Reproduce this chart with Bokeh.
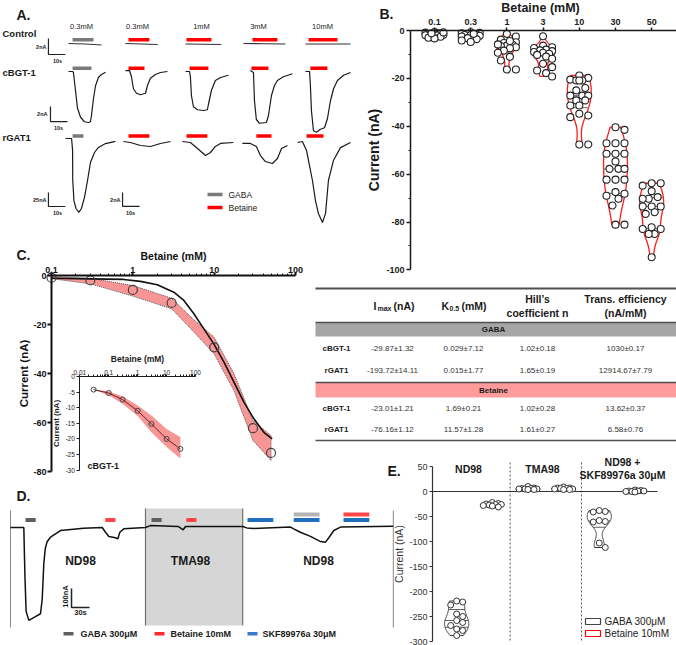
import numpy as np
from bokeh.plotting import figure
from bokeh.models import Range1d, LogScale, LinearAxis, FixedTicker, CustomJSTickFormatter
from bokeh.core.properties import value
from bokeh.embed import file_html
from bokeh.resources import INLINE

FONT = "Liberation Sans"
W, H = 676, 645

# ============================ DATA ============================
# ---- Panel A : current traces (time in s from column start, current in nA) ----
a_columns = ["0.3mM", "0.3mM", "1mM", "3mM", "10mM"]
a_rows = ["Control", "cBGT-1", "rGAT1"]

ctrl_bar_on = [2.4, 1.8, 0.6, 5.3, 1.8]
ctrl_bar_off = [14.7, 14.1, 15.3, 20.0, 18.8]
cbgt_bar_on = [2.4, 1.8, 2.4, 4.7, 2.9]
cbgt_bar_off = [13.5, 11.2, 13.5, 14.7, 12.9]
rgat_bar_on = [2.4, 1.8, 0.6, 7.6, 0.6]
rgat_bar_off = [8.8, 14.1, 12.9, 16.5, 10.6]

ctrl_t = [[0, 10, 19.4], [0, 9.5, 19], [0, 10.5, 21], [0, 12, 24.7], [0, 13, 26.5]]
ctrl_i = [[0.06, 0, -0.12], [0.06, 0, -0.06], [0, -0.03, -0.06], [0.06, 0.03, 0], [0, 0, 0]]

cbgt_t = [
    [0, 2.4, 2.9, 4.1, 5.3, 7.1, 9.4, 11.8, 12.9, 13.5, 14.7, 15.9, 17.6, 19.4, 21.8],
    [0, 2.4, 3.5, 4.7, 6.5, 8.8, 11.8, 12.9, 14.7, 17.6, 20.6, 24.7],
    [0, 2.4, 2.9, 3.5, 4.7, 7.1, 10.6, 12.9, 13.5, 15.3, 17.6, 20.6, 25.3],
    [4.1, 5.9, 6.5, 7.6, 9.4, 13.5, 14.7, 16.5, 18.2, 20, 23.5, 28.8],
    [0, 2.4, 2.9, 3.5, 4.7, 6.5, 8.8, 11.2, 12.9, 14.7, 16.5, 18.8, 22.4, 26.5]]
cbgt_i = [
    [0, 0, -0.13, -2.5, -4.9, -6.1, -6.7, -6.8, -6.7, -5.9, -3.6, -1.9, -0.8, -0.4, -0.1],
    [0.13, 0.13, -0.67, -2.3, -2.9, -3.1, -2.9, -1.9, -0.9, -0.4, -0.13, 0],
    [0, 0, -0.67, -3.2, -4.7, -5.1, -5.2, -5.1, -4.4, -2.5, -1.2, -0.8, -0.5],
    [0.13, -0.13, -3.9, -6.4, -6.9, -6.8, -5.9, -3.2, -1.9, -1.2, -0.7, -0.3],
    [0, 0, -1.9, -5.2, -7.9, -8.1, -7.7, -7.5, -6.3, -3.9, -2.3, -1.2, -0.5, -0.13]]

rgat_gaba_t = [-1.8, 1.8, 2.4, 2.5, 3.2, 4.4, 6.1, 7.6, 9.4, 11.2, 12.9, 15.3, 17.6, 21.8, 27.6]
rgat_gaba_i = [0, 0, -21, -75, -111, -125, -132, -125, -105, -75, -43, -25, -16, -9, -5]
rgat_t = [[-1.2, 2.9, 8.8, 14.7, 20.6, 26.5],
          [-1.8, 2.9, 7.1, 11.8, 14.7, 17.6, 20.6, 28.2],
          [-0.6, 4.1, 7.6, 10, 12.9, 17.1, 20, 22.4, 25.9],
          [-4.7, -1.8, 0.6, 2.4, 4.1, 5.9, 7.6, 10, 11.8, 13.5, 16.5, 20.6, 26.5]]
rgat_i = [[-0.43, -0.57, -1.0, -1.14, -0.71, -0.43],
          [-0.43, -0.57, -1.43, -2.43, -2.0, -1.14, -0.71, -0.57],
          [-0.71, -0.71, -1.14, -2.43, -3.29, -3.57, -2.86, -1.43, -1.0],
          [-0.57, -0.43, -1.7, -3.9, -6.0, -8.9, -10.7, -12.0, -10.7, -6.0, -3.1, -1.3, -0.57]]

# ---- Panel B : betaine currents (nA) per concentration ----
b_conc = ["0.1", "0.3", "1", "3", "10", "30", "50"]
b_01 = [-0.6, -0.9, -1.1, -1.3, -1.5, -1.6, -1.8, -2.0, -2.1, -2.3, -2.6, -3.0, -3.3, -1.2, -0.8]
b_03 = [-0.7, -1.0, -1.2, -1.5, -1.7, -1.9, -2.0, -2.2, -2.5, -2.8, -3.2, -3.6, -4.2, -4.8, -1.4]
b_1 = [-1.4, -2.5, -3.8, -4.9, -5.2, -6.0, -6.3, -6.5, -7.0, -7.4, -8.4, -9.3, -11.0, -12.5,
       -16.3, -16.3, -5.8, -4.4]
b_3 = [-2.4, -6.3, -7.0, -7.3, -8.0, -8.3, -8.6, -9.0, -9.3, -9.7, -10.2, -10.9, -11.8, -13.9,
       -15.3, -16.7, -17.8, -19.2]
b_10 = [-18.8, -19.8, -20.5, -20.9, -20.9, -20.9, -24.0, -25.0, -27.2, -27.2, -27.2, -29.2,
        -29.2, -31.3, -31.3, -34.8, -35.5, -36.2, -47.6, -47.6]
b_30 = [-40.4, -41.5, -47.1, -47.1, -47.1, -51.5, -51.5, -51.5, -54.7, -57.8, -57.8, -57.8,
        -62.3, -62.3, -62.3, -67.5, -68.2, -69.0, -70.3, -73.1, -81.1, -81.1]
b_50 = [-63.8, -63.8, -64.8, -67.1, -69.6, -70.3, -70.3, -73.5, -73.5, -73.5, -75.9, -76.6,
        -82.2, -82.9, -82.9, -85.0, -85.0, -94.7]

# ---- Panel C : dose response (rGAT1 main, cBGT-1 inset) ----
c_conc = [0.1, 0.3, 1, 3, 10, 30, 50]
c_mean = [-0.9, -2.0, -5.9, -11.2, -29.3, -62.3, -72.4]
c_band_conc = [0.1, 0.3, 1, 3, 5.6, 10, 17.5, 30, 50]
c_band_hi = [-0.5, -1.1, -4.1, -9.3, -18.0, -25.2, -40.0, -59.2, -65.3]
c_band_lo = [-1.3, -3.4, -8.4, -13.6, -23.0, -32.0, -47.0, -67.3, -75.5]
c_fit_conc = [0.1, 0.3, 0.77, 1.24, 2.0, 3.19, 4.24, 5.63, 7.47, 9.9, 13.2, 17.5, 23.2, 30.8, 40.8, 51.7]
c_fit_i = [-1.1, -1.36, -1.6, -2.4, -3.8, -6.8, -10.2, -15.6, -21.8, -27.9, -35.4, -43.5, -51.7,
           -58.5, -64.0, -66.7]
ci_conc = [0.03, 0.1, 0.3, 1, 3, 10, 30]
ci_mean = [-4.2, -5.3, -7.4, -11.0, -15.2, -20.0, -23.2]
ci_band_hi = [-4.2, -4.8, -6.3, -9.3, -12.5, -16.8, -19.4]
ci_band_lo = [-4.2, -6.0, -8.7, -12.7, -17.9, -22.6, -26.3]

# ---- Table ----
tbl_cols = ["Imax (nA)", "K0.5 (mM)", "Hill’s coefficient n", "Trans. efficiency (nA/mM)"]
tbl_gaba_cbgt = ["-29.87±1.32", "0.029±7.12", "1.02±0.18", "1030±0.17"]
tbl_gaba_rgat = ["-193.72±14.11", "0.015±1.77", "1.65±0.19", "12914.67±7.79"]
tbl_bet_cbgt = ["-23.01±1.21", "1.69±0.21", "1.02±0.28", "13.62±0.37"]
tbl_bet_rgat = ["-76.16±1.12", "11.57±1.28", "1.61±0.27", "6.58±0.76"]

# ---- Panel D : continuous recording (s, nA) ----
d_t = [0, 22.2, 24, 26, 30.5, 40, 50, 52.8, 55.5, 58, 61, 66.7, 83.3, 121.7, 152.8, 158.3, 163.9,
       175, 178.9, 182.2, 188.9, 225, 233, 280, 287.8, 291.7, 387, 394, 405, 466.7, 472, 483, 500,
       516.7, 525, 530.5, 538.9, 550, 637.8]
d_i = [0, 0, -250, -440, -489, -472, -454, -380, -191, -110, -75, -51, -16, -4, 0, -25, -47,
       -54, -60, -25, -7, 0, 10, 5, -12, 5, 5, -2, -5, 2, -7, -25, -47,
       -74, -77, -54, -16, 2, 7]
d_tma_on, d_tma_off = 225, 387
d_gaba_on, d_gaba_off = [25, 235], [42, 252]
d_bet_on, d_bet_off = [158, 293], [175, 310]
d_skf_on, d_skf_off = [395, 472, 555], [438, 515, 598]
d_skfgaba_on, d_skfgaba_off = [472], [515]
d_skfbet_on, d_skfbet_off = [555], [598]

# ---- Panel E : currents (nA) ----
e_groups = ["ND98", "TMA98", "ND98 +\nSKF89976a 30μM"]
e_nd_gaba = [-219, -221, -227, -245, -250, -258, -262, -268, -275, -278, -288]
e_nd_bet = [-22, -24, -25, -26, -26, -27, -28, -29, -31]
e_tma_gaba = [10, 7, 6, 6, 5, 5, 5, 4, 4]
e_tma_bet = [9, 7, 7, 6, 6, 5, 5, 4, 4]
e_skf_gaba = [-38, -40, -41, -58, -60, -61, -103, -112]
e_skf_bet = [3, 2, 1, 1, 0, 0, -1, 1]

# ============================ CANVAS ============================
p = figure(width=W, height=H, x_range=Range1d(0, W), y_range=Range1d(H, 0),
           x_axis_type=None, y_axis_type=None, output_backend="svg", toolbar_location=None,
           min_border=0, outline_line_color=None)

def lin(v1, p1, v2, p2, lo, hi):
    k = (v2 - v1) / (p2 - p1)
    return Range1d(start=float(v1 + (lo - p1) * k), end=float(v1 + (hi - p1) * k))

def logr(v1, p1, v2, p2, lo, hi):
    a, b = np.log10(v1), np.log10(v2)
    k = (b - a) / (p2 - p1)
    return Range1d(start=float(10 ** (a + (lo - p1) * k)), end=float(10 ** (a + (hi - p1) * k)))

def add_x(name, v1, p1, v2, p2, log=False):
    p.extra_x_ranges[name] = (logr if log else lin)(v1, p1, v2, p2, 0, W)
    if log:
        p.extra_x_scales[name] = LogScale()

def add_y(name, v1, p1, v2, p2):
    p.extra_y_ranges[name] = lin(v1, p1, v2, p2, H, 0)

def txt(x, y, s, size, bold=False, align="center", base="middle", color="#1a1a1a", angle=0.0):
    p.text(x=[x], y=[y], text=[s], text_font=value(FONT), text_font_size=f"{size}px",
           text_font_style="bold" if bold else "normal", text_align=align,
           text_baseline=base, text_color=color, angle=angle)

def axis(side, loc, ticks, bounds, xr="default", yr="default", minor=(), labels=None,
         size=9, bold=True, tick_out=4, standoff=2, title=None, tsize=12, tbold=True,
         tstand=0, color="#1a1a1a", lw=1.5):
    if labels is None:
        fmt = CustomJSTickFormatter(code="return String(tick)")
    else:
        fmt = CustomJSTickFormatter(args=dict(labels=list(labels)),
                                    code="return labels[Math.round(tick)]")
    ax = LinearAxis(x_range_name=xr, y_range_name=yr, fixed_location=loc,
                    ticker=FixedTicker(ticks=list(ticks), minor_ticks=list(minor)),
                    formatter=fmt, bounds=bounds)
    ax.axis_line_color = color
    ax.axis_line_width = lw
    ax.major_tick_line_color = color
    ax.major_tick_line_width = lw
    ax.major_tick_out = tick_out
    ax.major_tick_in = 0
    ax.minor_tick_line_color = color
    ax.minor_tick_line_width = 1
    ax.minor_tick_out = max(2, tick_out - 2)
    ax.minor_tick_in = 0
    ax.major_label_text_font = FONT
    ax.major_label_text_font_size = f"{size}px"
    ax.major_label_text_font_style = "bold" if bold else "normal"
    ax.major_label_text_color = color
    ax.major_label_standoff = standoff
    if title:
        ax.axis_label = title
        ax.axis_label_text_font = FONT
        ax.axis_label_text_font_size = f"{tsize}px"
        ax.axis_label_text_font_style = "bold" if tbold else "normal"
        ax.axis_label_text_color = color
        ax.axis_label_standoff = tstand
    p.add_layout(ax, side)

def violin_shape(vals, max_hw, n=80):
    v = np.asarray(vals, float)
    sd = v.std(ddof=1)
    iqr = np.subtract(*np.percentile(v, [75, 25]))
    s = min(sd, iqr / 1.34) if iqr > 0 else sd
    bw = max(0.9 * s * len(v) ** -0.2, 1e-6)
    grid = np.linspace(v.min(), v.max(), n)
    dens = np.exp(-0.5 * ((grid[:, None] - v[None, :]) / bw) ** 2).sum(1)
    return grid, dens / dens.max() * max_hw

def swarm(vals, px_y, dia, step, maxoff):
    v = np.asarray(vals, float)
    cands = [0.0]
    k = 1
    while k * step <= maxoff + 1e-9:
        cands += [k * step, -k * step]
        k += 1
    placed, offs = [], np.zeros(len(v))
    for idx in np.argsort(-v):
        y = v[idx] * px_y
        best, bestd = 0.0, -1.0
        for c in cands:
            d = min([np.hypot(c - a, y - b) for a, b in placed], default=1e9)
            if d >= dia:
                best = c
                break
            if d > bestd:
                best, bestd = c, d
        placed.append((best, y))
        offs[idx] = best
    return offs

# ============================ PANEL A ============================
txt(16, 14, "A.", 14, bold=True, align="left")
add_x("A", 0, 68, 10, 85)
add_y("Actrl", 0, 43.5, -1, 51.5)
add_y("Acbgt", 0, 71, -1, 78.5)
add_y("Ars", 0, 138, -1, 145)
add_y("ArL", 0, 138, -25, 152)
a_col_t0 = [0, 33.5, 68.8, 102.9, 139.4]
col_px = [81, 137, 201, 258, 322]
for cx, lab in zip(col_px, a_columns):
    txt(cx, 26, lab, 7.5)
for yy, lab in zip([33, 72, 137], a_rows):
    txt(2, yy, lab, 9.5, bold=True, align="left")

bar_rows = [(ctrl_bar_on, ctrl_bar_off, 37.5, 41), (cbgt_bar_on, cbgt_bar_off, 66, 69.5),
            (rgat_bar_on, rgat_bar_off, 133.8, 137.3)]
for on, off, top, bot in bar_rows:
    L = [a + o for a, o in zip(on, a_col_t0)]
    R = [a + o for a, o in zip(off, a_col_t0)]
    cols = ["#7a7a7a"] + ["#ff0000"] * 4
    p.quad(left=L, right=R, top=top, bottom=bot, fill_color=cols, line_color=None,
           x_range_name="A")

for c in range(5):
    p.line([t + a_col_t0[c] for t in ctrl_t[c]], ctrl_i[c], x_range_name="A",
           y_range_name="Actrl", line_color="#333333", line_width=1.1)
    p.line([t + a_col_t0[c] for t in cbgt_t[c]], cbgt_i[c], x_range_name="A",
           y_range_name="Acbgt", line_color="#1a1a1a", line_width=1.2)
p.line(rgat_gaba_t, rgat_gaba_i, x_range_name="A", y_range_name="ArL",
       line_color="#1a1a1a", line_width=1.2)
for c in range(4):
    p.line([t + a_col_t0[c + 1] for t in rgat_t[c]], rgat_i[c], x_range_name="A",
           y_range_name="Ars", line_color="#1a1a1a", line_width=1.2)

# scale bars (10 s, 2/2/25/2 nA)
sb = [("Actrl", -11.8, -1.31, 2, "2nA", 46, 46, 57, 60),
      ("Acbgt", -10.6, -6.67, 2, "2nA", 47, 113.5, 58, 127),
      ("ArL", -11.8, -121.4, 25, "25nA", 46, 199, 57, 212),
      ("Ars", 31.8, -9.71, 2, "2nA", 120, 199, 130, 212)]
for rn, t0, i0, amp, lab, lx, ly, sx, sy in sb:
    p.line([t0, t0, t0 + 10], [i0 + amp, i0, i0], x_range_name="A", y_range_name=rn,
           line_color="#222222", line_width=1.2)
    txt(lx, ly, lab, 5.5, bold=True, align="right")
    txt(sx, sy, "10s", 5.5, bold=True)

p.quad(left=[207, 207], right=[222, 222], top=[192.3, 205.3], bottom=[195.8, 208.8],
       fill_color=["#7a7a7a", "#ff0000"], line_color=None)
txt(228, 194, "GABA", 8.5, align="left")
txt(228, 207, "Betaine", 8.5, align="left")

# ============================ PANEL B ============================
txt(379, 13, "B.", 14, bold=True, align="left")
add_x("B", 0, 434, 1, 470.2)
add_y("B", 0, 30, -100, 269.4)
b_groups = [b_01, b_03, b_1, b_3, b_10, b_30, b_50]
for i, vals in enumerate(b_groups):
    g, w = violin_shape(vals, 0.33)
    p.patch(np.r_[i + w, (i - w)[::-1]], np.r_[g, g[::-1]], x_range_name="B",
            y_range_name="B", fill_color=None, line_color="#ff1a1a", line_width=1.3)
    qs = np.percentile(vals, [25, 50, 75])
    qw = np.interp(qs, g, w)
    p.segment(x0=i - qw, x1=i + qw, y0=qs, y1=qs, x_range_name="B", y_range_name="B",
              line_color="#808080", line_width=1.2)
    off = swarm(vals, 2.394, 7.5, 3.0, 11)
    p.scatter(i + off / 36.2, vals, x_range_name="B", y_range_name="B", size=7,
              fill_color="white", line_color="#222222", line_width=1.1)
axis("left", 410, [0, -20, -40, -60, -80, -100], (-100, 0), yr="B",
     minor=[-10, -30, -50, -70, -90], size=9, tick_out=4, standoff=2,
     title="Current (nA)", tsize=14, tstand=1)
axis("above", 30, list(range(7)), (-0.663, 6.9), xr="B", labels=b_conc, size=9,
     tick_out=3, standoff=3)
txt(540, 7.5, "Betaine (mM)", 12.5, bold=True)

# ============================ PANEL C ============================
txt(16, 254, "C.", 14, bold=True, align="left")
add_x("C", 0.1, 51, 100, 295, log=True)
add_y("C", 0, 275, -80, 471)
p.patch(c_band_conc + c_band_conc[::-1], c_band_hi + c_band_lo[::-1], x_range_name="C",
        y_range_name="C", fill_color="#f89595", line_color="#555555", line_width=1,
        line_dash="1 1")
p.line(c_fit_conc, c_fit_i, x_range_name="C", y_range_name="C", line_color="#111111",
       line_width=1.6)
p.scatter(c_conc, c_mean, x_range_name="C", y_range_name="C", size=9, fill_color=None,
          line_color="#444444", line_width=1.2)
log_minor = [m * 10.0 ** e for e in (-2, -1, 0, 1) for m in range(2, 10)]
axis("left", 51, [0, -20, -40, -60, -80], (-80, 0), yr="C", size=9, tick_out=4,
     standoff=1, title="Current (nA)", tsize=11.5, tstand=0, lw=2, color="#111111")
axis("above", 275, [0.1, 1, 10, 100], (0.1, 100), xr="C",
     minor=[m for m in log_minor if 0.1 < m < 100], size=9, tick_out=3, standoff=0,
     title="Betaine (mM)", tsize=10.5, tstand=2, lw=2, color="#111111")

# inset
add_x("Ci", 0.01, 79.3, 100, 195, log=True)
add_y("Ci", 0, 376, -30, 469.6)
p.patch(ci_conc + ci_conc[::-1], ci_band_hi + ci_band_lo[::-1], x_range_name="Ci",
        y_range_name="Ci", fill_color="#f89595", line_color=None)
p.line(ci_conc, ci_mean, x_range_name="Ci", y_range_name="Ci", line_color="#6b1f1f",
       line_width=1)
p.scatter(ci_conc, ci_mean, x_range_name="Ci", y_range_name="Ci", size=5, fill_color=None,
          line_color="#444444", line_width=1)
axis("left", 79.3, [0, -5, -10, -15, -20, -25, -30], (-30, 0), yr="Ci", size=6.5,
     bold=False, tick_out=3, standoff=2, title="Current (nA)", tsize=8, tstand=1, lw=1)
axis("above", 376, [0.01, 0.1, 1, 10, 100], (0.01, 100), xr="Ci",
     minor=[m for m in log_minor if 0.01 < m < 100], size=6.5, bold=False, tick_out=2,
     standoff=0, title="Betaine (mM)", tsize=8.5, tstand=3, lw=1)
txt(87, 465, "cBGT-1", 9, bold=True, align="left")

# ============================ TABLE ============================
p.quad(left=[315, 315], right=[676, 676], top=[322, 382], bottom=[336, 397],
       fill_color=["#a6a6a6", "#ff9b9b"], line_color=None)
p.segment(x0=[315, 315, 315, 315], x1=[676] * 4, y0=[288, 322, 382, 440],
          y1=[288, 322, 382, 440], line_color="#505050", line_width=[2, 1.5, 1.5, 1.5])
txt(373, 305, "I", 10.5, bold=True, align="left")
txt(377, 308, "max", 7, bold=True, align="left")
txt(393, 305, "(nA)", 10.5, bold=True, align="left")
txt(441, 305, "K", 10.5, bold=True, align="left")
txt(449, 308, "0.5", 7, bold=True, align="left")
txt(461, 305, "(mM)", 10.5, bold=True, align="left")
txt(537, 298, "Hill’s", 10.5, bold=True)
txt(537, 312, "coefficient n", 10.5, bold=True)
txt(625, 298, "Trans. efficiency", 10.5, bold=True)
txt(625, 312, "(nA/mM)", 10.5, bold=True)
txt(493, 329, "GABA", 8, bold=True)
txt(493, 389.5, "Betaine", 8, bold=True)
col_x = [392, 463, 537, 625]
for yy, name, row in [(348, "cBGT-1", tbl_gaba_cbgt), (370, "rGAT1", tbl_gaba_rgat),
                      (408, "cBGT-1", tbl_bet_cbgt), (429, "rGAT1", tbl_bet_rgat)]:
    txt(336, yy, name, 8, bold=True)
    for cx, s in zip(col_x, row):
        txt(cx, yy, s, 8, color="#333333")

# ============================ PANEL D ============================
txt(16, 495, "D.", 14, bold=True, align="left")
add_x("D", 0, 10, 100, 70)
add_y("D", 0, 527, -100, 546)
p.quad(left=[d_tma_on], right=[d_tma_off], top=[508], bottom=[625], x_range_name="D",
       fill_color="#d6d6d6", line_color=None)
p.segment(x0=[d_tma_on, d_tma_off], x1=[d_tma_on, d_tma_off], y0=[508, 508],
          y1=[625, 625], x_range_name="D", line_color="#707070", line_width=1.2)
p.segment(x0=[0, 638], x1=[0, 638], y0=[510, 510], y1=[627, 627], x_range_name="D",
          line_color="#8a8a8a", line_width=1)
p.quad(left=d_gaba_on, right=d_gaba_off, top=517.5, bottom=521.5, x_range_name="D",
       fill_color="#606060", line_color=None)
p.quad(left=d_bet_on, right=d_bet_off, top=517.5, bottom=521.5, x_range_name="D",
       fill_color="#ff4545", line_color=None)
p.quad(left=d_skf_on, right=d_skf_off, top=517.5, bottom=521.5, x_range_name="D",
       fill_color="#1f6fbf", line_color=None)
p.quad(left=d_skfgaba_on, right=d_skfgaba_off, top=512, bottom=516, x_range_name="D",
       fill_color="#b4b4b4", line_color=None)
p.quad(left=d_skfbet_on, right=d_skfbet_off, top=512, bottom=516, x_range_name="D",
       fill_color="#ff4545", line_color=None)
p.line(d_t, d_i, x_range_name="D", y_range_name="D", line_color="#111111", line_width=1.5)
p.line([101.7, 101.7, 131.7], [-321, -421, -421], x_range_name="D", y_range_name="D",
       line_color="#222222", line_width=1.5)
txt(65, 596, "100nA", 7.5, bold=True, angle=np.pi / 2)
txt(80, 612, "30s", 7.5, bold=True)
txt(80, 560, "ND98", 12, bold=True)
txt(190, 560, "TMA98", 12, bold=True)
txt(318, 560, "ND98", 12, bold=True)
p.quad(left=[63, 154, 247], right=[73, 164, 257], top=631.5, bottom=635,
       fill_color=["#606060", "#ff2a2a", "#3a78c9"], line_color=None)
txt(80, 633, "GABA 300μM", 9, bold=True, align="left")
txt(170, 633, "Betaine 10mM", 9, bold=True, align="left")
txt(262, 633, "SKF89976a 30μM", 9, bold=True, align="left")

# ============================ PANEL E ============================
txt(387, 470, "E.", 14, bold=True, align="left")
add_x("E", 0, 474, 1, 545.3)
add_y("E", 0, 491, -50, 516)
p.segment(x0=[0.5, 1.5], x1=[0.5, 1.5], y0=[462, 462], y1=[642, 642], x_range_name="E",
          line_color="#555555", line_width=1, line_dash="2 2")
p.segment(x0=[432], x1=[657], y0=[0], y1=[0], y_range_name="E", line_color="#333333",
          line_width=1.2)
e_gaba = [e_nd_gaba, e_tma_gaba, e_skf_gaba]
e_bet = [e_nd_bet, e_tma_bet, e_skf_bet]
for gi in range(3):
    for vals, side, lc, fc in ((e_gaba[gi], -0.25, "#3a3a3a", None),
                               (e_bet[gi], 0.25, "#ff0000", "#ff5a5a")):
        cx = gi + side
        g, w = violin_shape(vals, 0.17)
        p.patch(np.r_[cx + w, (cx - w)[::-1]], np.r_[g, g[::-1]], x_range_name="E",
                y_range_name="E", fill_color=fc, line_color=lc, line_width=1)
        qs = np.percentile(vals, [25, 50, 75])
        qw = np.interp(qs, g, w)
        p.segment(x0=cx - qw, x1=cx + qw, y0=qs, y1=qs, x_range_name="E", y_range_name="E",
                  line_color=lc, line_width=0.8)
        off = swarm(vals, 0.5, 6, 3, 11)
        p.scatter(cx + off / 71.3, vals, x_range_name="E", y_range_name="E", size=6,
                  fill_color="white", line_color="#333333", line_width=1)
axis("left", 432, [50, 0, -50, -100, -150, -200, -250, -300], (-300, 50), yr="E", size=9,
     bold=False, tick_out=3, standoff=2, title="Current (nA)", tsize=10.5, tbold=False,
     tstand=1, lw=1.2, color="#333333")
txt(468, 468, e_groups[0], 10.5, bold=True)
txt(542, 468, e_groups[1], 10.5, bold=True)
txt(622, 461, e_groups[2].split("\n")[0], 10.5, bold=True)
txt(622, 474, e_groups[2].split("\n")[1], 10.5, bold=True)
p.quad(left=[585, 585], right=[600, 600], top=[618, 630], bottom=[624, 636],
       fill_color="white", line_color=["#444444", "#ff0000"], line_width=1.2)
txt(604, 621, "GABA 300μM", 10, align="left", color="#222222")
txt(604, 633, "Betaine 10mM", 10, align="left", color="#222222")

open("out.html", "w").write(file_html(p, INLINE, "Figure"))
